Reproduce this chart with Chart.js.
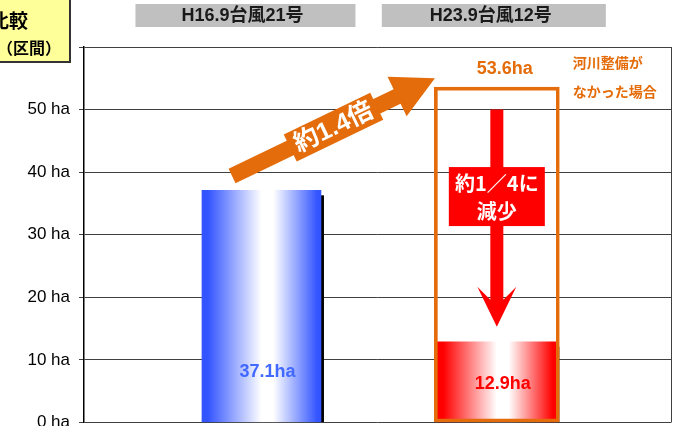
<!DOCTYPE html>
<html lang="ja">
<head>
<meta charset="UTF-8">
<title>浸水面積の比較</title>
<script src="https://cdn.jsdelivr.net/npm/chart.js@4"></script>
<style>
  body { margin: 0; background: #fff; }
  #wrap { width: 674px; height: 426px; }
</style>
</head>
<body>
<div id="wrap"><canvas id="areaChart" width="674" height="426"></canvas></div>
<script>
// --- data ---
const typhoons = ['H16.9台風21号', 'H23.9台風12号'];
const typhoonPos = [1, 2];
const floodArea = [37.1, 12.9];          // 浸水面積 (ha)
const noWorksPos = [2];
const noWorksArea = [53.6];              // 河川整備がなかった場合 (ha)
const noWorksNote = ['河川整備が', 'なかった場合'];
const yMax = 60;
const yStep = 10;

// --- look ---
const ORANGE = '#e46c0a';
const RED = '#ff0000';
const BLUE = '#3355ff';
const LAT = '"Liberation Sans", "Noto Sans CJK JP", sans-serif';
const JP = '"Noto Sans CJK JP", sans-serif';
const BAR_W = 119;

// annotation anchors in axis units
const upArrow = { from: [0.875, 39.4], to: [1.737, 55.0] };
const downArrow = { x: 2, from: 50, to: 15.3 };
const downBoxY = 36.1;
const labelLift = [50, 38];

function barGradient(chart, i) {
  const base = i === 0 ? BLUE : RED;
  if (!chart.chartArea) return base;
  const cx = chart.scales.x.getPixelForValue(typhoonPos[i]);
  const g = chart.ctx.createLinearGradient(cx - BAR_W / 2, 0, cx + BAR_W / 2, 0);
  g.addColorStop(0, base);
  g.addColorStop(0.05, base);
  g.addColorStop(0.5, '#ffffff');
  g.addColorStop(0.6, '#ffffff');
  g.addColorStop(0.97, base);
  g.addColorStop(1, base);
  return g;
}

function arrowPath(ctx, sx, sy, tx, ty, hw, headLen, headHw, barb) {
  const L = Math.hypot(tx - sx, ty - sy);
  const ux = (tx - sx) / L, uy = (ty - sy) / L;
  const nx = -uy, ny = ux;
  const bx = tx - ux * headLen, by = ty - uy * headLen;
  const jx = bx + ux * barb, jy = by + uy * barb;
  ctx.beginPath();
  ctx.moveTo(sx + nx * hw, sy + ny * hw);
  ctx.lineTo(jx + nx * hw, jy + ny * hw);
  ctx.lineTo(bx + nx * headHw, by + ny * headHw);
  ctx.lineTo(tx, ty);
  ctx.lineTo(bx - nx * headHw, by - ny * headHw);
  ctx.lineTo(jx - nx * hw, jy - ny * hw);
  ctx.lineTo(sx - nx * hw, sy - ny * hw);
  ctx.closePath();
}

// bar shadows on the right side
const shadowPlugin = {
  id: 'barShadow',
  beforeDatasetsDraw(chart) {
    const ctx = chart.ctx;
    const meta = chart.getDatasetMeta(1);
    ctx.save();
    ctx.fillStyle = '#000';
    meta.data.forEach(bar => {
      ctx.fillRect(bar.x + bar.width / 2, bar.y + 5, 3, bar.base - bar.y - 5);
    });
    ctx.restore();
  }
};

const notesPlugin = {
  id: 'notes',
  afterDatasetsDraw(chart) {
    const ctx = chart.ctx;
    const xs = chart.scales.x, ys = chart.scales.y;
    ctx.save();

    // orange arrow with label
    const sx = xs.getPixelForValue(upArrow.from[0]), sy = ys.getPixelForValue(upArrow.from[1]);
    const tx = xs.getPixelForValue(upArrow.to[0]), ty = ys.getPixelForValue(upArrow.to[1]);
    ctx.fillStyle = ORANGE;
    arrowPath(ctx, sx, sy, tx, ty, 8, 42, 22, 0);
    ctx.fill();
    const ang = Math.atan2(ty - sy, tx - sx);
    const mx = sx + (tx - sx) * 0.5, my = sy + (ty - sy) * 0.5;
    ctx.save();
    ctx.translate(mx, my);
    ctx.rotate(ang);
    ctx.fillStyle = ORANGE;
    ctx.fillRect(-48, -15, 96, 30);
    ctx.fillStyle = '#fff';
    ctx.font = 'bold 25px ' + LAT;
    ctx.textAlign = 'center';
    ctx.textBaseline = 'middle';
    ctx.fillText('約1.4倍', 0, 1);
    ctx.restore();

    // red arrow with label box
    const rx = xs.getPixelForValue(downArrow.x);
    const rTop = ys.getPixelForValue(downArrow.from);
    const rTip = ys.getPixelForValue(downArrow.to);
    ctx.fillStyle = RED;
    arrowPath(ctx, rx, rTop, rx, rTip, 6.5, 40, 19.5, 13);
    ctx.fill();
    const by = ys.getPixelForValue(downBoxY);
    ctx.fillRect(rx - 48, by - 29.5, 96, 59);
    ctx.fillStyle = '#fff';
    ctx.font = 'bold 20px ' + JP;
    ctx.textAlign = 'center';
    ctx.textBaseline = 'middle';
    ctx.fillText('約1／4に', rx, by - 13);
    ctx.fillText('減少', rx, by + 15);

    // value labels inside bars
    ctx.font = 'bold 18px ' + LAT;
    floodArea.forEach((v, i) => {
      const x = xs.getPixelForValue(typhoonPos[i]) + 6;
      const y = ys.getPixelForValue(0) - labelLift[i];
      ctx.fillStyle = i === 0 ? '#4169ff' : RED;
      ctx.fillText(v.toFixed(1) + 'ha', x, y);
    });

    // value and note for the no-works case
    const ox = xs.getPixelForValue(noWorksPos[0]);
    const oy = ys.getPixelForValue(noWorksArea[0]);
    ctx.fillStyle = ORANGE;
    ctx.fillText(noWorksArea[0].toFixed(1) + 'ha', ox + 8, oy - 18);
    ctx.font = 'bold 14px ' + JP;
    ctx.textAlign = 'left';
    ctx.fillText(noWorksNote[0], ox + 76, oy - 24);
    ctx.fillText(noWorksNote[1], ox + 76, oy + 5);

    // right frame line
    const a = chart.chartArea;
    ctx.strokeStyle = '#404040';
    ctx.lineWidth = 1;
    ctx.beginPath();
    ctx.moveTo(a.right + 0.5, a.top);
    ctx.lineTo(a.right + 0.5, a.bottom);
    ctx.stroke();
    ctx.restore();
  },
  afterDraw(chart) {
    const ctx = chart.ctx;
    const xs = chart.scales.x;
    ctx.save();

    // category headers
    const shift = [-16, -3];
    const boxW = [220, 224];
    ctx.font = 'bold 18px ' + LAT;
    ctx.textAlign = 'center';
    ctx.textBaseline = 'middle';
    typhoons.forEach((name, i) => {
      const cx = xs.getPixelForValue(typhoonPos[i]) + shift[i];
      ctx.fillStyle = '#c0c0c0';
      ctx.fillRect(cx - boxW[i] / 2, 4, boxW[i], 23);
      ctx.fillStyle = '#1a1a1a';
      ctx.fillText(name, cx - 3, 16);
    });

    // title box
    ctx.fillStyle = '#ffff99';
    ctx.fillRect(-5, -5, 75, 67);
    ctx.strokeStyle = '#333';
    ctx.lineWidth = 2;
    ctx.strokeRect(-5, -5, 75, 67);
    ctx.fillStyle = '#000';
    ctx.textAlign = 'right';
    ctx.font = 'bold 19px ' + JP;
    ctx.fillText('比較', 28, 21);
    ctx.font = 'bold 16px ' + JP;
    ctx.fillText('（区間）', 61, 48);
    ctx.restore();
  }
};

new Chart(document.getElementById('areaChart'), {
  type: 'bar',
  data: {
    datasets: [
      {
        label: '河川整備がなかった場合',
        data: noWorksArea.map((v, i) => ({ x: noWorksPos[i], y: v })),
        backgroundColor: 'rgba(0,0,0,0)',
        borderColor: ORANGE,
        borderWidth: 3,
        borderSkipped: false,
        maxBarThickness: 125,
        order: 0
      },
      {
        label: '浸水面積',
        data: floodArea.map((v, i) => ({ x: typhoonPos[i], y: v })),
        backgroundColor: c => barGradient(c.chart, c.dataIndex),
        borderWidth: 0,
        maxBarThickness: BAR_W,
        order: 1
      }
    ]
  },
  options: {
    responsive: false,
    animation: false,
    layout: { padding: { top: 47, right: 3, bottom: 3.5, left: 0 } },
    datasets: { bar: { grouped: false, categoryPercentage: 1, barPercentage: 1 } },
    plugins: { legend: { display: false }, tooltip: { enabled: false } },
    scales: {
      x: {
        type: 'linear',
        min: 0.246,
        max: 2.74,
        offset: false,
        display: false,
        afterBuildTicks(scale) {
          scale.ticks = typhoonPos.map(v => ({ value: v }));
        }
      },
      y: {
        min: 0,
        max: yMax,
        ticks: {
          stepSize: yStep,
          padding: 9,
          color: '#000',
          font: { family: LAT, size: 17 },
          callback: v => v + ' ha'
        },
        grid: { color: '#404040', lineWidth: 1, tickLength: 5 },
        border: { color: '#000', width: 1.5 },
        afterFit(scale) {
          scale.width = 84;
          scale.paddingTop = 0;
          scale.paddingBottom = 0;
        }
      }
    }
  },
  plugins: [shadowPlugin, notesPlugin]
});
</script>
</body>
</html>
